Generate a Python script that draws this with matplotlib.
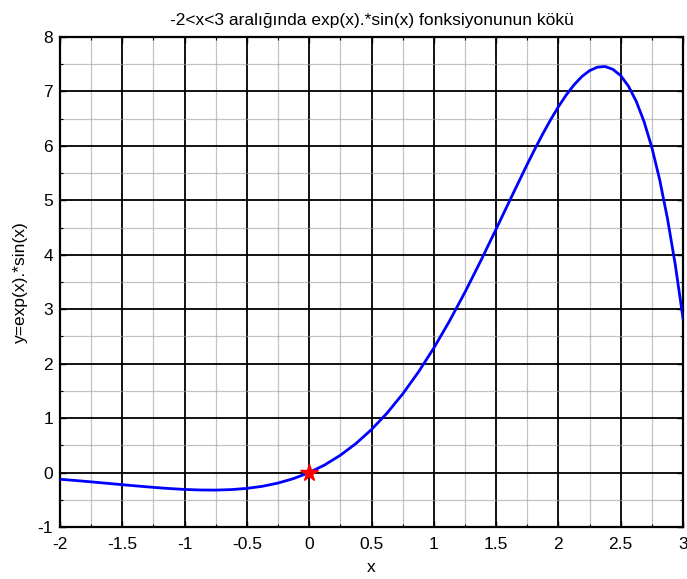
import matplotlib
matplotlib.use("Agg")
import matplotlib.pyplot as plt
from matplotlib.ticker import MultipleLocator

plt.rcParams['font.family'] = ['Liberation Sans', 'DejaVu Sans']

# Curve samples
x_vals = [-2.0, -1.875, -1.75, -1.625, -1.5, -1.375, -1.25, -1.125, -1.0, -0.875,
          -0.75, -0.625, -0.5, -0.375, -0.25, -0.125, 0.0, 0.125, 0.25, 0.375,
          0.5, 0.625, 0.75, 0.875, 1.0, 1.125, 1.25, 1.375, 1.5, 1.625,
          1.75, 1.8125, 1.875, 1.9375, 2.0, 2.0625, 2.125, 2.1875, 2.25, 2.3125,
          2.375, 2.4375, 2.5, 2.5625, 2.625, 2.6875, 2.75, 2.8125, 2.875, 2.9375, 3.0]
y_vals = [-0.123, -0.146, -0.171, -0.197, -0.223, -0.248, -0.272, -0.293, -0.310, -0.320,
          -0.322, -0.313, -0.291, -0.252, -0.193, -0.110, 0.0, 0.141, 0.318, 0.533,
          0.790, 1.093, 1.443, 1.841, 2.287, 2.779, 3.312, 3.880, 4.471, 5.071,
          5.663, 5.948, 6.222, 6.480, 6.719, 6.934, 7.120, 7.272, 7.382, 7.446,
          7.458, 7.406, 7.291, 7.096, 6.818, 6.445, 5.971, 5.382, 4.669, 3.825, 2.835]

root_x = [0.0]
root_y = [0.0]

title = "-2<x<3 aralığında exp(x).*sin(x) fonksiyonunun kökü"
xlabel = "x"
ylabel = "y=exp(x).*sin(x)"
x_ticks = [-2, -1.5, -1, -0.5, 0, 0.5, 1, 1.5, 2, 2.5, 3]
x_tick_labels = ["-2", "-1.5", "-1", "-0.5", "0", "0.5", "1", "1.5", "2", "2.5", "3"]
y_ticks = [-1, 0, 1, 2, 3, 4, 5, 6, 7, 8]
y_tick_labels = ["-1", "0", "1", "2", "3", "4", "5", "6", "7", "8"]

fig = plt.figure(figsize=(6.87, 5.79), dpi=100)
ax = fig.add_axes([60/687, 52/579, 623/687, 490/579])

ax.plot(x_vals, y_vals, color='#0000ff', lw=2.0, zorder=3)
ax.plot(root_x, root_y, marker='*', color='red', markersize=13, markeredgecolor='red', ls='none', zorder=4)

ax.set_xlim(-2, 3)
ax.set_ylim(-1, 8)
ax.set_xticks(x_ticks)
ax.set_xticklabels(x_tick_labels)
ax.set_yticks(y_ticks)
ax.set_yticklabels(y_tick_labels)
ax.xaxis.set_minor_locator(MultipleLocator(0.25))
ax.yaxis.set_minor_locator(MultipleLocator(0.5))

ax.grid(True, which='major', color='black', lw=1.3, ls='-')
ax.grid(True, which='minor', color='#a0a0a0', lw=0.9, ls=(0, (1, 0.6)))
ax.set_axisbelow(True)

ax.tick_params(which='both', direction='in', top=True, right=True, labelsize=12.5)
ax.tick_params(axis='y', which='major', pad=5)
ax.tick_params(axis='x', which='major', pad=7)
ax.tick_params(which='major', length=4, width=1)
ax.tick_params(which='minor', length=2, width=0.8)
for s in ax.spines.values():
    s.set_linewidth(1.6)
    s.set_color('black')

ax.set_title(title, fontsize=12.5, pad=9)
ax.set_xlabel(xlabel, fontsize=12.5, labelpad=6)
ax.set_ylabel(ylabel, fontsize=12.5, labelpad=7)

fig.savefig("out.png", dpi=100)
